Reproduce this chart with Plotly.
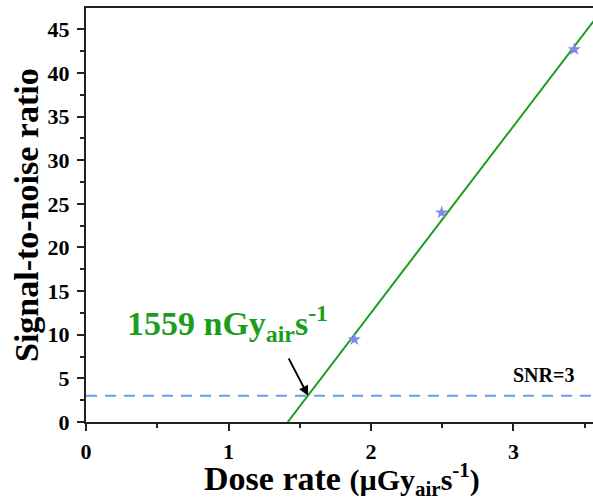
import numpy as np
import plotly.graph_objects as go

# ---- data ----
dose_rate = [1.883, 2.496, 3.427]      # µGy_air s^-1
snr = [9.47, 24.0, 42.7]
snr_threshold = 3
lod_ugy = 1.559                         # detection limit (µGy_air s^-1)
x_ticks = [0, 1, 2, 3]
y_ticks = [0, 5, 10, 15, 20, 25, 30, 35, 40, 45]
x_range = [0, 3.558]
y_range = [0, 47.44]

FONT = "Liberation Serif"
GREEN = "#1b9e1b"

# linear fit
m, b = np.polyfit(dose_rate, snr, 1)
x0 = -b / m
x1 = (y_range[1] + 3 - b) / m
fit_x = [x0, x1]
fit_y = [m * x0 + b, m * x1 + b]

fig = go.Figure()

fig.add_trace(go.Scatter(
    x=x_range, y=[snr_threshold, snr_threshold], mode="lines",
    line=dict(color="#5aa2f0", width=2, dash="11px,8px"),
    showlegend=False, hoverinfo="skip"))

fig.add_trace(go.Scatter(
    x=fit_x, y=fit_y, mode="lines",
    line=dict(color=GREEN, width=2),
    showlegend=False, hoverinfo="skip"))

fig.add_trace(go.Scatter(
    x=dose_rate, y=snr, mode="markers",
    marker=dict(symbol="star", size=10, color="#8585ee", line=dict(width=0)),
    showlegend=False))

# annotations
fig.add_annotation(
    x=lod_ugy, y=snr_threshold, xref="x", yref="y",
    ax=1.417, ay=7.45, axref="x", ayref="y",
    text="", showarrow=True, arrowhead=2, arrowsize=1.1, arrowwidth=1.8,
    arrowcolor="black")

fig.add_annotation(
    x=0.99, y=11.3, xref="x", yref="y",
    text=f"{lod_ugy*1000:.0f} nGy<sub>air</sub>s<sup>-1</sup>",
    showarrow=False, xanchor="center", yanchor="middle",
    font=dict(family=FONT, size=34, color=GREEN, weight="bold"))

fig.add_annotation(
    x=3.214, y=5.39, xref="x", yref="y",
    text="SNR=3", showarrow=False, xanchor="center", yanchor="middle",
    font=dict(family=FONT, size=20, color="black", weight="bold"))

# axis titles as annotations
fig.add_annotation(
    x=0, y=0.5, xref="paper", yref="paper", xshift=-60,
    text="Signal-to-noise ratio", textangle=-90, showarrow=False,
    xanchor="center", yanchor="middle",
    font=dict(family=FONT, size=34, color="black", weight="bold"))

fig.add_annotation(
    x=0.505, y=0, xref="paper", yref="paper", yshift=-57,
    text="Dose rate <span style='font-size:30px'>(µGy<sub>air</sub>s<sup>-1</sup>)</span>",
    showarrow=False, xanchor="center", yanchor="middle",
    font=dict(family=FONT, size=34, color="black", weight="bold"))

axis_common = dict(
    showgrid=False, zeroline=False, showline=True, linecolor="#222",
    linewidth=2, ticks="outside", ticklen=7, tickwidth=2, tickcolor="#222",
    tickfont=dict(family=FONT, size=22, color="black", weight="bold"),
)

fig.update_xaxes(
    range=x_range, tickvals=x_ticks, mirror=True,
    minor=dict(dtick=0.5, ticks="outside", ticklen=4, tickwidth=2, tickcolor="#222"),
    ticklabelstandoff=2,
    **axis_common)
fig.update_yaxes(
    range=y_range, tickvals=y_ticks, mirror=False,
    minor=dict(dtick=2.5, ticks="outside", ticklen=4, tickwidth=2, tickcolor="#222"),
    ticklabelstandoff=3,
    **axis_common)

fig.update_layout(
    width=593, height=499,
    margin=dict(l=86, r=0, t=8, b=77),
    plot_bgcolor="white", paper_bgcolor="white",
    font=dict(family=FONT),
)

fig.write_html("out.html")
